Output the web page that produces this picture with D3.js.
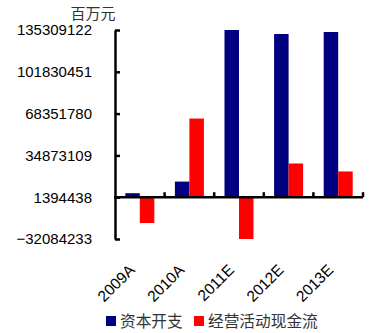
<!DOCTYPE html>
<html><head><meta charset="utf-8">
<script src="https://cdn.jsdelivr.net/npm/d3@7"></script>
<style>body{margin:0;background:#fff}svg{display:block}</style>
</head><body>
<script>
const categories = ["2009A","2010A","2011E","2012E","2013E"];
const seriesNames = ["资本开支","经营活动现金流"];
const capex = [4600000, 13900000, 135309122, 132100000, 133700000];
const cashflow = [-19300000, 64400000, -32084233, 28400000, 22000000];
const yTicks = [-32084233, 1394438, 34873109, 68351780, 101830451, 135309122];
const unitLabel = "百万元";
const colors = ["#000080", "#FF0000"];
const baseline = 1394438;

const W = 371, H = 333;
const svg = d3.select("body").append("svg").attr("width", W).attr("height", H);

const y = d3.scaleLinear().domain([-32084233, 135309122]).range([239, 30]);
const x0 = d3.scaleBand().domain(categories).range([115, 363]).padding(0);
const x1 = d3.scaleBand().domain(seriesNames).range([0, x0.bandwidth()]).paddingInner(0).paddingOuter(0.71);

const series = [capex, cashflow];
categories.forEach((c, i) => {
  seriesNames.forEach((s, j) => {
    const v = series[j][i];
    svg.append("rect")
      .attr("x", x0(c) + x1(s))
      .attr("width", x1.bandwidth())
      .attr("y", Math.min(y(v), y(baseline)))
      .attr("height", Math.abs(y(v) - y(baseline)))
      .attr("fill", colors[j]);
  });
});

// Y axis
const yAxis = d3.axisLeft(y).tickValues(yTicks).tickSizeInner(-5).tickSizeOuter(0).tickPadding(23).tickFormat(d => d3.format("d")(d));
const gy = svg.append("g").attr("transform", "translate(115,0)").call(yAxis);
gy.select(".domain").attr("stroke", "#000").attr("stroke-width", 2.5);
gy.selectAll(".tick line").attr("stroke", "#000").attr("stroke-width", 2.5);
gy.selectAll(".tick text").attr("font-family", "Liberation Sans, Arial, sans-serif").attr("font-size", 15).attr("fill", "#000");

// X axis at baseline
const xb = y(baseline);
svg.append("line").attr("x1", 114).attr("x2", 363).attr("y1", xb).attr("y2", xb).attr("stroke", "#000").attr("stroke-width", 2.5);
categories.forEach(c => {
  const xx = x0(c) + x0.bandwidth();
  svg.append("line").attr("x1", xx).attr("x2", xx).attr("y1", xb).attr("y2", xb - 5).attr("stroke", "#000").attr("stroke-width", 2.5);
});
categories.forEach(c => {
  const cx = x0(c) + x0.bandwidth() / 2 - 4;
  svg.append("text").attr("transform", `translate(${cx},271) rotate(-45)`)
    .attr("text-anchor", "end").attr("font-family", "Liberation Sans, Arial, sans-serif").attr("font-size", 15.5).attr("fill", "#000").text(c);
});

// unit label
svg.append("text").attr("x", 93).attr("y", 19).attr("text-anchor", "middle")
  .attr("font-family", "Noto Sans CJK SC").attr("font-size", 15).attr("fill", "#333").text(unitLabel);

// legend
const legX = [106, 194];
seriesNames.forEach((s, j) => {
  svg.append("rect").attr("x", legX[j]).attr("y", 316).attr("width", 10).attr("height", 10).attr("fill", colors[j]);
  svg.append("text").attr("x", legX[j] + 14).attr("y", 327).attr("font-family", "Noto Sans CJK SC").attr("font-size", 15.7).attr("fill", "#333").text(s);
});
</script>
</body></html>
